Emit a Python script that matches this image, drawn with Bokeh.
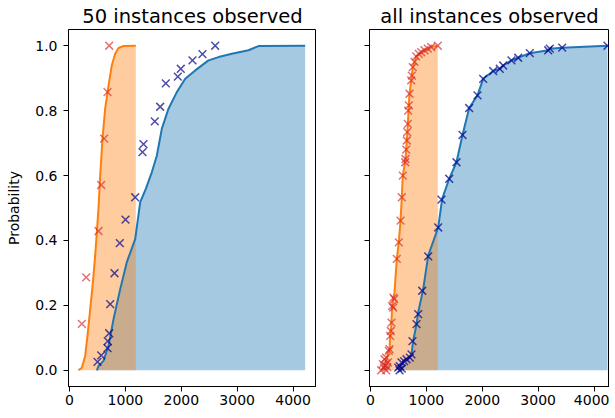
from bokeh.plotting import figure
from bokeh.layouts import row
from bokeh.models import Range1d, FixedTicker, PrintfTickFormatter, CustomJSTickFormatter
from bokeh.embed import file_html
from bokeh.resources import INLINE

# ---------------- data ----------------
TITLES = ["50 instances observed", "all instances observed"]
X_TICKS = [0, 1000, 2000, 3000, 4000]
Y_TICKS = [0.0, 0.2, 0.4, 0.6, 0.8, 1.0]

# left panel (50 instances) – model CDF curves
orange_50_x = [161, 221, 280, 328, 370, 418, 459, 489, 519, 549, 590, 638, 698, 757, 817, 877, 966, 1186]
orange_50_y = [0, 0.008, 0.044, 0.116, 0.188, 0.27, 0.353, 0.425, 0.5, 0.6, 0.713, 0.806, 0.877, 0.94, 0.975, 0.993, 0.999, 1.0]
blue_50_x = [489, 519, 608, 698, 787, 907, 1025, 1175, 1265, 1365, 1472, 1562, 1651, 1771, 1920, 2070, 2249, 2487, 2666, 2904, 3202, 3381, 4216]
blue_50_y = [0, 0.013, 0.029, 0.075, 0.157, 0.25, 0.333, 0.404, 0.518, 0.559, 0.61, 0.661, 0.744, 0.806, 0.857, 0.898, 0.924, 0.955, 0.965, 0.975, 0.986, 0.999, 1.0]
# left panel observed instances
red_50_mx = [221, 298, 519, 567, 620, 680, 710]
red_50_my = [0.143, 0.286, 0.429, 0.571, 0.714, 0.857, 1.0]
navy_50_mx = [501, 567, 680, 685, 710, 728, 805, 900, 1002, 1175, 1306, 1324, 1526, 1622, 1723, 1938, 1991, 2200, 2379, 2606]
navy_50_my = [0.026, 0.046, 0.068, 0.090, 0.114, 0.204, 0.299, 0.392, 0.464, 0.533, 0.672, 0.697, 0.767, 0.812, 0.884, 0.905, 0.929, 0.955, 0.974, 1.0]

# right panel (all instances) – curves
orange_all_x = [200, 250, 310, 340, 352, 370, 388, 411, 429, 470, 506, 537, 560, 578, 626, 650, 668, 685, 698, 728, 757, 787, 817, 864, 907, 966, 1025, 1085, 1204]
orange_all_y = [0, 0.01, 0.05, 0.065, 0.106, 0.132, 0.198, 0.224, 0.24, 0.343, 0.394, 0.461, 0.533, 0.6, 0.651, 0.708, 0.759, 0.816, 0.852, 0.893, 0.934, 0.95, 0.967, 0.975, 0.98, 0.986, 0.991, 0.996, 1.0]
blue_all_x = [496, 524, 600, 703, 733, 763, 823, 853, 943, 1032, 1211, 1282, 1408, 1538, 1646, 1765, 1914, 2016, 2195, 2313, 2374, 2522, 2642, 2850, 3179, 3208, 3429, 4240]
blue_all_y = [0.003, 0.008, 0.028, 0.039, 0.049, 0.09, 0.142, 0.178, 0.25, 0.353, 0.44, 0.528, 0.59, 0.641, 0.725, 0.808, 0.847, 0.898, 0.922, 0.929, 0.939, 0.955, 0.963, 0.977, 0.986, 0.991, 0.994, 1.0]
# right panel observed instances
red_all_mx = [191, 220, 250, 281, 281, 310, 300, 240, 260, 327, 340, 352, 363, 376, 388, 406, 411, 424, 470, 506, 537, 560, 578,
              621, 626, 639, 650, 656, 668, 674, 685, 698, 728, 739, 757, 787, 817, 864, 907, 966, 1025, 1085, 1204]
red_all_my = [0.0, 0.019, 0.034, 0.0, 0.039, 0.024, 0.01, 0.008, 0.015, 0.06, 0.065, 0.106, 0.121, 0.147, 0.198, 0.193, 0.224, 0.219, 0.343, 0.394, 0.461, 0.533, 0.6,
              0.641, 0.651, 0.68, 0.708, 0.734, 0.759, 0.8, 0.816, 0.852, 0.893, 0.908, 0.934, 0.95, 0.967, 0.975, 0.98, 0.986, 0.991, 0.996, 1.0]
navy_all_mx = [520, 496, 524, 560, 555, 600, 644, 703, 733, 751, 823, 853, 925, 1032, 1211, 1270, 1408, 1538, 1646, 1765, 1914, 2016,
               2195, 2313, 2374, 2522, 2642, 2850, 3179, 3208, 3429, 4240]
navy_all_my = [0.0, 0.008, 0.013, 0.005, 0.024, 0.028, 0.034, 0.039, 0.049, 0.09, 0.142, 0.173, 0.245, 0.351, 0.44, 0.526, 0.59, 0.641, 0.725, 0.808, 0.847, 0.898,
               0.922, 0.929, 0.939, 0.955, 0.963, 0.977, 0.986, 0.991, 0.994, 1.0]

ORANGE = "#ff7f0e"
BLUE = "#1f77b4"
RED = "#d62728"
NAVY = "#00008b"
FONT = "DejaVu Sans"


def make_panel(title, x_end, frame_w, border_left, show_ylabels,
               ox, oy, bx, by, rmx, rmy, nmx, nmy):
    p = figure(output_backend="svg", toolbar_location=None,
               frame_width=frame_w, frame_height=357,
               min_border_left=border_left, min_border_right=0,
               min_border_top=27, min_border_bottom=22,
               x_range=Range1d(-18, x_end), y_range=Range1d(-0.05, 1.05),
               title=title)
    p.title.text_font = FONT
    p.title.text_font_size = "19.5px"
    p.title.text_font_style = "normal"
    p.title.text_color = "black"
    p.title.align = "center"
    p.title.standoff = 4
    p.grid.visible = False
    p.outline_line_color = "black"
    p.outline_line_width = 1
    p.background_fill_color = "white"
    p.border_fill_color = "white"
    for ax in (p.xaxis, p.yaxis):
        ax.axis_line_color = "black"
        ax.major_tick_line_color = "black"
        ax.major_tick_out = 5
        ax.major_tick_in = 0
        ax.minor_tick_line_color = None
        ax.major_label_text_font = FONT
        ax.major_label_text_font_size = "14px"
        ax.major_label_text_color = "black"
    p.xaxis.ticker = FixedTicker(ticks=X_TICKS)
    p.xaxis.major_label_standoff = 3
    p.yaxis.ticker = FixedTicker(ticks=Y_TICKS)
    p.yaxis.major_label_standoff = 6
    if show_ylabels:
        p.yaxis.formatter = PrintfTickFormatter(format="%.1f")
        p.yaxis.axis_label = "Probability"
        p.yaxis.axis_label_text_font = FONT
        p.yaxis.axis_label_text_font_size = "14px"
        p.yaxis.axis_label_text_font_style = "normal"
        p.yaxis.axis_label_text_color = "black"
        p.yaxis.axis_label_standoff = 10
    else:
        p.yaxis.formatter = CustomJSTickFormatter(code="return ''")

    # fills: blue first, orange on top
    p.varea(x=bx, y1=[0] * len(bx), y2=by, fill_color=BLUE, fill_alpha=0.4)
    p.varea(x=ox, y1=[0] * len(ox), y2=oy, fill_color=ORANGE, fill_alpha=0.4)
    p.line(ox, oy, line_color=ORANGE, line_width=2)
    p.line(bx, by, line_color=BLUE, line_width=2)
    p.scatter(rmx, rmy, marker="x", size=11, line_color=RED, line_alpha=0.65, line_width=1.5)
    p.scatter(nmx, nmy, marker="x", size=11, line_color=NAVY, line_alpha=0.7, line_width=1.5)
    return p


p1 = make_panel(TITLES[0], 4419, 248, 68, True,
                orange_50_x, orange_50_y, blue_50_x, blue_50_y,
                red_50_mx, red_50_my, navy_50_mx, navy_50_my)
p2 = make_panel(TITLES[1], 4276, 240, 53, False,
                orange_all_x, orange_all_y, blue_all_x, blue_all_y,
                red_all_mx, red_all_my, navy_all_mx, navy_all_my)

layout = row(p1, p2)
open("out.html", "w").write(file_html(layout, INLINE))
